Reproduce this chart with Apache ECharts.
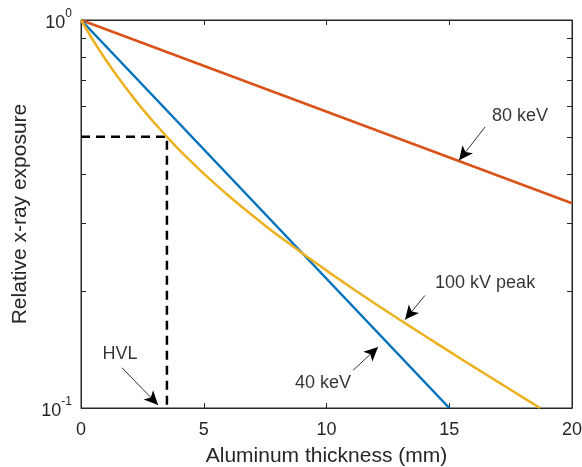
<!DOCTYPE html>
<html>
<head>
<meta charset="utf-8">
<script src="https://cdn.jsdelivr.net/npm/echarts@6/dist/echarts.min.js"></script>
<style>html,body{margin:0;padding:0;background:#fff}#c{width:582px;height:467px}</style>
</head>
<body>
<div id="c"></div>
<script>
// Data
var kev40 = [[0, 1], [15, 0.1]];
var kev80 = [[0, 1], [20, 0.337]];
var kvp100 = [[0,1],[0.5,0.885],[1,0.791],[1.5,0.713],[2,0.647],[2.5,0.590],[3,0.542],[3.5,0.500],[4,0.463],[4.5,0.431],[5,0.402],[6,0.353],[7,0.313],[8,0.279],[9,0.251],[10,0.226],[11,0.2045],[12,0.1854],[13,0.1686],[14,0.1535],[15,0.1399],[16,0.1276],[17,0.1166],[18,0.1065],[18.7,0.1]];
var hvlGuide = [[0, 0.5], [3.5, 0.5], [3.5, 0.1]];
var xTicks = [0, 5, 10, 15, 20];
var yTickValues = [0.1,0.2,0.3,0.4,0.5,0.6,0.7,0.8,0.9,1];
var yLabelValues = [0.1, 1];
var labels = [
  {name: '80 keV', value: [17.88, 0.566]},
  {name: '100 kV peak', value: [16.46, 0.210]},
  {name: '40 keV', value: [9.86, 0.116]},
  {name: 'HVL', value: [1.59, 0.138]}
];
var arrows = [
  [[16.46, 0.530], [15.40, 0.435]],
  [[14.01, 0.195], [13.20, 0.169]],
  [[11.08, 0.125], [12.10, 0.1436]],
  [[1.67, 0.127], [3.14, 0.1018]]
];

var FONT = '"Liberation Sans", Arial, sans-serif';
var AX = '#262626';
var chart = echarts.init(document.getElementById('c'));
chart.setOption({
  animation: false,
  backgroundColor: '#fff',
  grid: [
    {left: 81, top: 20, width: 491, height: 388, outerBoundsMode: 'none',
     show: true, borderColor: AX, borderWidth: 1, backgroundColor: 'transparent'},
    {left: 81, top: 20, width: 491, height: 388, outerBoundsMode: 'none'}
  ],
  xAxis: [
    {
      gridIndex: 0, type: 'value', min: 0, max: 20, interval: 5, position: 'bottom',
      name: 'Aluminum thickness (mm)', nameLocation: 'middle', nameGap: 38,
      nameTextStyle: {fontFamily: FONT, fontSize: 21, color: AX},
      axisLine: {show: true, onZero: false, lineStyle: {color: AX, width: 1}},
      axisTick: {show: true, inside: true, length: 5, lineStyle: {color: AX, width: 1}},
      axisLabel: {show: true, fontFamily: FONT, fontSize: 18, color: AX, margin: 13, customValues: xTicks},
      splitLine: {show: false}
    },
    {
      gridIndex: 1, type: 'value', min: 0, max: 20, interval: 5, position: 'top',
      axisLine: {show: true, onZero: false, lineStyle: {color: AX, width: 1}},
      axisTick: {show: true, inside: true, length: 5, lineStyle: {color: AX, width: 1}},
      axisLabel: {show: true, fontSize: 10, color: 'rgba(255,255,255,0)'},
      splitLine: {show: false}
    }
  ],
  yAxis: [
    {
      gridIndex: 0, type: 'log', logBase: 10, min: 0.1, max: 1, position: 'left',
      name: 'Relative x-ray exposure', nameLocation: 'middle', nameGap: 49,
      nameTextStyle: {fontFamily: FONT, fontSize: 21, color: AX},
      axisLine: {show: true, onZero: false, lineStyle: {color: AX, width: 1}},
      axisTick: {show: true, inside: true, length: 5, lineStyle: {color: AX, width: 1}, customValues: yTickValues},
      axisLabel: {
        show: true, customValues: yLabelValues, margin: 9,
        fontFamily: FONT, fontSize: 18, color: AX,
        formatter: function (v) {
          var e = Math.round(Math.log10(v));
          return '{b|10}{sup|' + e + '}';
        },
        rich: {
          b: {fontFamily: FONT, fontSize: 18, color: AX, padding: [6, 0, 0, 0]},
          sup: {fontFamily: FONT, fontSize: 12, color: AX, verticalAlign: 'top', padding: [0, 0, 6, 0]}
        }
      },
      splitLine: {show: false}
    },
    {
      gridIndex: 1, type: 'log', logBase: 10, min: 0.1, max: 1, position: 'right',
      axisLine: {show: true, onZero: false, lineStyle: {color: AX, width: 1}},
      axisTick: {show: true, inside: true, length: 5, lineStyle: {color: AX, width: 1}, customValues: yTickValues},
      axisLabel: {show: true, fontSize: 10, color: 'rgba(255,255,255,0)'},
      splitLine: {show: false}
    }
  ],
  series: [
    {type: 'line', data: [], xAxisIndex: 1, yAxisIndex: 1, symbol: 'none', silent: true},
    {type: 'line', data: hvlGuide, symbol: 'none', z: 2,
     lineStyle: {color: '#000', width: 2.5, type: [9, 6]}},
    {type: 'line', name: '80 keV', data: kev80, symbol: 'none', z: 3,
     lineStyle: {color: '#D95319', width: 2.5}},
    {type: 'line', name: '40 keV', data: kev40, symbol: 'none', z: 3,
     lineStyle: {color: '#0072BD', width: 2.5}},
    {type: 'line', name: '100 kV peak', data: kvp100, symbol: 'none', smooth: 0.15, z: 3,
     lineStyle: {color: '#EDB120', width: 2.5}},
    {type: 'scatter', data: labels, symbolSize: 0, z: 5,
     label: {show: true, position: 'inside', formatter: '{b}',
       fontFamily: FONT, fontSize: 18, color: '#000'},
     markLine: {
       silent: true,
       label: {show: false},
       lineStyle: {color: '#000', width: 0.8, type: 'solid'},
       data: arrows.map(function (a) {
         return [
           {coord: a[0], symbol: 'none'},
           {coord: a[1], symbol: 'arrow', symbolSize: [10, 14]}
         ];
       })
     }}
  ]
});
</script>
</body>
</html>
